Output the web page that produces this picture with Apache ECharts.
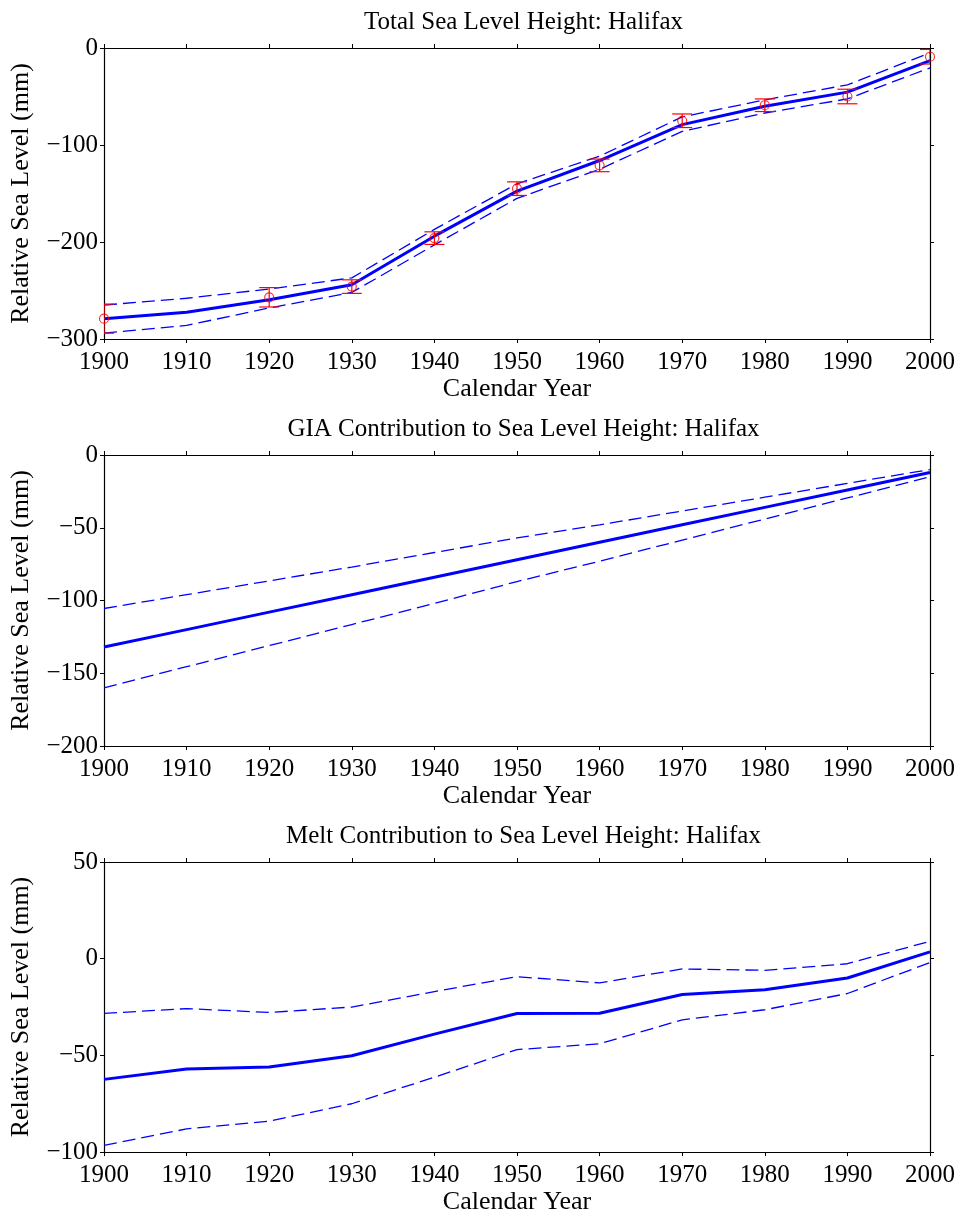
<!DOCTYPE html>
<html>
<head>
<meta charset="utf-8">
<script src="https://cdn.jsdelivr.net/npm/echarts@6/dist/echarts.min.js"></script>
<style>html,body{margin:0;padding:0;background:#fff;}#c{width:960px;height:1216px;}</style>
</head>
<body>
<div id="c"></div>
<script>
// ---- data ----
var years = [1900, 1910, 1920, 1930, 1940, 1950, 1960, 1970, 1980, 1990, 2000];
var totalMean  = [-279, -272.5, -259.5, -244, -194, -147.5, -116, -79, -60, -45.5, -13];
var totalUpper = [-265, -258, -248.5, -237, -187, -140, -111.5, -71, -53.5, -38, -5];
var totalLower = [-294, -286, -268, -252, -203, -155, -125, -86, -67, -52.5, -20.5];
var obsYears  = [1900, 1920, 1930, 1940, 1950, 1960, 1970, 1980, 1990, 2000];
var obsValues = [-279, -257, -246, -196, -145, -121, -75, -59, -50, -9];
var obsErrors = [15, 10, 7, 6.5, 7, 6.5, 7, 6.5, 7.5, 7.5];
var giaMean  = [-132, -120, -108, -96, -84, -72, -60, -48, -36, -24, -12];
var giaUpper = [-105.5, -96, -86.5, -77, -67, -57, -48, -38.5, -29, -19.5, -10];
var giaLower = [-160, -145.5, -131, -116.5, -102, -87, -73, -58.5, -44, -29.5, -15];
var meltMean  = [-62.4, -57, -56, -50.2, -39, -28.3, -28.2, -18.5, -16, -10, 3.5];
var meltUpper = [-28.3, -25.8, -27.8, -25, -17, -9.3, -12.5, -5.3, -6, -2.6, 9];
var meltLower = [-96.5, -88, -84, -75, -61.3, -47, -44, -31.6, -26.4, -18, -2];
var titles = ['Total Sea Level Height: Halifax', 'GIA Contribution to Sea Level Height: Halifax', 'Melt Contribution to Sea Level Height: Halifax'];
var yRanges = [[-300, 0, 100], [-200, 0, 50], [-100, 50, 50]];
var xName = 'Calendar Year';
var yName = 'Relative Sea Level (mm)';

// ---- layout ----
var FONT = 'Liberation Serif';
var gridTops = [48, 455, 862];
var gridH = 291;
var gridLeft = 103, gridW = 827;
var BLUE = '#0000ff', RED = '#ff0000';

function pairs(xs, ys) { return xs.map(function (x, i) { return [x, ys[i]]; }); }
function minusFmt(v) { return String(v).replace('-', '\u2212'); }
function plainFmt(v) { return String(v); }

var option = { animation: false, backgroundColor: '#fff', title: [], grid: [], xAxis: [], yAxis: [], series: [] };

gridTops.forEach(function (top, g) {
  option.grid.push({ left: gridLeft, top: top, width: gridW, height: gridH, containLabel: false });
  option.title.push({
    text: titles[g], left: gridLeft + gridW / 2 + 2, top: top - 43, textAlign: 'center',
    textStyle: { fontFamily: FONT, fontSize: 25, fontWeight: 'normal', color: '#000' }
  });
  var axLine = { show: true, onZero: false, lineStyle: { color: '#000', width: 1.2 } };
  var tick = { show: true, inside: false, length: 4, lineStyle: { color: '#000', width: 1 } };
  option.xAxis.push({
    type: 'value', gridIndex: g, min: 1900, max: 2000, interval: 10, position: 'bottom',
    name: xName, nameLocation: 'middle', nameGap: 31,
    nameTextStyle: { fontFamily: FONT, fontSize: 26, color: '#000' },
    axisLine: axLine, axisTick: tick, splitLine: { show: false },
    axisLabel: { fontFamily: FONT, fontSize: 25, color: '#000', margin: 11, formatter: plainFmt }
  });
  option.xAxis.push({
    type: 'value', gridIndex: g, min: 1900, max: 2000, interval: 10, position: 'top',
    axisLine: axLine, axisTick: tick, splitLine: { show: false }, axisLabel: { show: false }
  });
  var r = yRanges[g];
  option.yAxis.push({
    type: 'value', gridIndex: g, min: r[0], max: r[1], interval: r[2], position: 'left',
    name: yName, nameLocation: 'middle', nameGap: 70, nameRotate: 90,
    nameTextStyle: { fontFamily: FONT, fontSize: 26, color: '#000' },
    axisLine: axLine, axisTick: tick, splitLine: { show: false },
    axisLabel: { fontFamily: FONT, fontSize: 25, color: '#000', margin: 6, formatter: minusFmt }
  });
  option.yAxis.push({
    type: 'value', gridIndex: g, min: r[0], max: r[1], interval: r[2], position: 'right',
    axisLine: axLine, axisTick: tick, splitLine: { show: false }, axisLabel: { show: false }
  });
});

var sets = [[totalUpper, totalMean, totalLower], [giaUpper, giaMean, giaLower], [meltUpper, meltMean, meltLower]];
sets.forEach(function (s, g) {
  [0, 1, 2].forEach(function (k) {
    option.series.push({
      type: 'line', xAxisIndex: g * 2, yAxisIndex: g * 2, data: pairs(years, s[k]),
      showSymbol: false, symbol: 'none', silent: true, z: 2,
      lineStyle: k === 1 ? { color: BLUE, width: 3 } : { color: BLUE, width: 1.3, type: [13, 6] }
    });
  });
});

// error bars for observations (top panel)
var errData = obsYears.map(function (y, i) { return [y, obsValues[i] - obsErrors[i], obsValues[i] + obsErrors[i]]; });
option.series.push({
  type: 'custom', xAxisIndex: 0, yAxisIndex: 0, clip: true, z: 3, silent: true,
  data: errData,
  renderItem: function (params, api) {
    var x = api.value(0);
    var pLo = api.coord([x, api.value(1)]);
    var pHi = api.coord([x, api.value(2)]);
    var hw = 10;
    var st = { stroke: RED, lineWidth: 1.2, fill: null };
    return {
      type: 'group', children: [
        { type: 'line', shape: { x1: pLo[0], y1: pLo[1], x2: pHi[0], y2: pHi[1] }, style: st },
        { type: 'line', shape: { x1: pLo[0] - hw, y1: pLo[1], x2: pLo[0] + hw, y2: pLo[1] }, style: st },
        { type: 'line', shape: { x1: pHi[0] - hw, y1: pHi[1], x2: pHi[0] + hw, y2: pHi[1] }, style: st }
      ]
    };
  }
});
option.series.push({
  type: 'scatter', xAxisIndex: 0, yAxisIndex: 0, data: pairs(obsYears, obsValues), clip: false,
  symbol: 'circle', symbolSize: 9, z: 4, silent: true,
  itemStyle: { color: 'rgba(0,0,0,0)', borderColor: RED, borderWidth: 1.2 }
});

var chart = echarts.init(document.getElementById('c'), null, { renderer: 'canvas' });
chart.setOption(option);
</script>
</body>
</html>
